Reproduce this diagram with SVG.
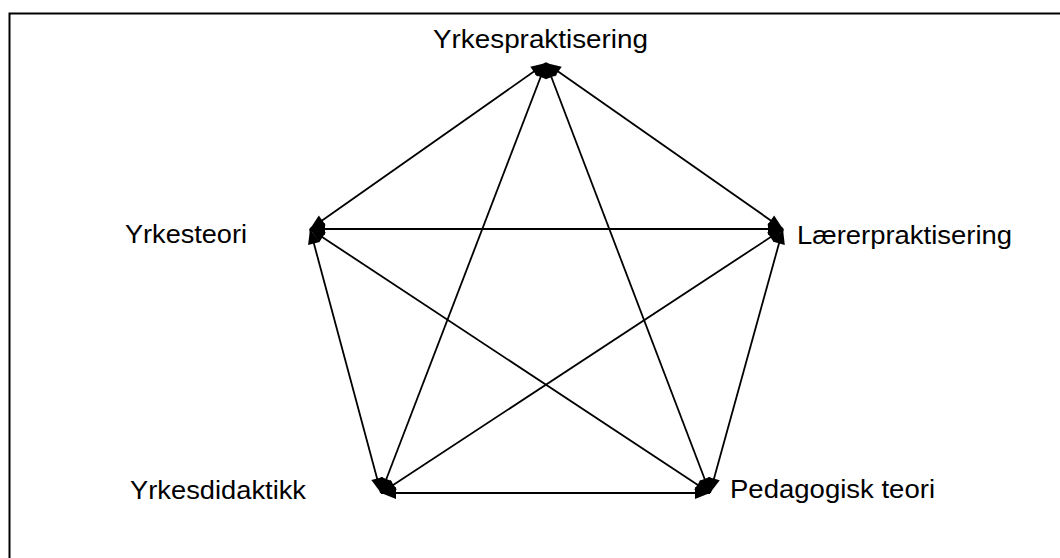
<svg xmlns="http://www.w3.org/2000/svg" width="1060" height="558" viewBox="0 0 1060 558">
  <defs>
    <marker id="ah" markerUnits="userSpaceOnUse" orient="auto-start-reverse" refX="0" refY="0" markerWidth="40" markerHeight="40" viewBox="-20 -20 40 40" overflow="visible">
      <path d="M0,0 L-15,-6 L-15,6 Z" fill="#000"/>
    </marker>
    <style>
      .lbl { font-family: "Liberation Sans", Arial, sans-serif; font-size: 25px; fill: #000; }
      .edge { stroke: #000; stroke-width: 1.8; fill: none; marker-start: url(#ah); marker-end: url(#ah); }
    </style>
  </defs>
  <rect x="0" y="0" width="1060" height="558" fill="#fff"/>
  <rect x="9.5" y="13.5" width="1100" height="600" fill="none" stroke="#000" stroke-width="2"/>
  <g id="connectors">
    <line class="edge" x1="546" y1="63" x2="310" y2="229"/>
    <line class="edge" x1="546" y1="63" x2="783" y2="229"/>
    <line class="edge" x1="546" y1="63" x2="381" y2="493"/>
    <line class="edge" x1="546" y1="63" x2="710" y2="493"/>
    <line class="edge" x1="310" y1="229" x2="783" y2="229"/>
    <line class="edge" x1="310" y1="229" x2="381" y2="493"/>
    <line class="edge" x1="310" y1="229" x2="710" y2="493"/>
    <line class="edge" x1="783" y1="229" x2="381" y2="493"/>
    <line class="edge" x1="783" y1="229" x2="710" y2="493"/>
    <line class="edge" x1="381" y1="493" x2="710" y2="493"/>
  </g>
  <g id="node-yrkespraktisering">
    <text class="lbl" x="433" y="48" textLength="215" lengthAdjust="spacingAndGlyphs">Yrkespraktisering</text>
  </g>
  <g id="node-yrkesteori">
    <text class="lbl" x="125" y="243" textLength="122" lengthAdjust="spacingAndGlyphs">Yrkesteori</text>
  </g>
  <g id="node-laererpraktisering">
    <text class="lbl" x="797" y="244" textLength="215" lengthAdjust="spacingAndGlyphs">Lærerpraktisering</text>
  </g>
  <g id="node-yrkesdidaktikk">
    <text class="lbl" x="130" y="499" textLength="176" lengthAdjust="spacingAndGlyphs">Yrkesdidaktikk</text>
  </g>
  <g id="node-pedagogisk-teori">
    <text class="lbl" x="730" y="498" textLength="205" lengthAdjust="spacingAndGlyphs">Pedagogisk teori</text>
  </g>
</svg>
